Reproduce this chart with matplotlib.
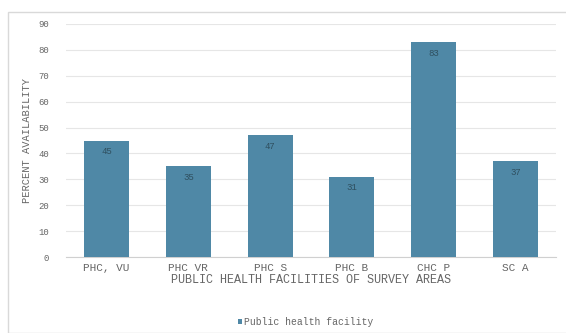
import matplotlib
matplotlib.use("Agg")
from matplotlib import pyplot as plt
from matplotlib.patches import Rectangle

# Data
facilities = ["PHC, VU", "PHC VR", "PHC S", "PHC B", "CHC P", "SC A"]
availability = [45, 35, 47, 31, 83, 37]
yticks = list(range(0, 91, 10))

bar_color = "#4f88a6"
text_color = "#666666"
font = "Liberation Mono"

fig = plt.figure(figsize=(5.66, 3.33), dpi=100)
fig.patch.set_facecolor("white")

# Light outer frame like the exported chart area
fig.patches.append(Rectangle((8 / 566, 0), 1, 1 - 12 / 333, transform=fig.transFigure,
                             fill=False, edgecolor="#d9d9d9", linewidth=1))

ax = fig.add_axes([0.116, 0.228, 0.867, 0.700])
x = range(len(facilities))
bars = ax.bar(x, availability, width=0.55, color=bar_color, zorder=3)

# Value labels inside the top of each bar
for b, v in zip(bars, availability):
    ax.text(b.get_x() + b.get_width() / 2, v - 2.5, str(v), ha="center", va="top",
            fontsize=6.5, color="#2f4f5f", family=font, zorder=4)

ax.set_xlim(-0.5, len(facilities) - 0.5)
ax.set_ylim(0, 90)
ax.set_yticks(yticks)
ax.set_yticklabels([str(t) for t in yticks], fontsize=6.5, color=text_color, family=font)
ax.set_xticks(list(x))
ax.set_xticklabels(facilities, fontsize=8, color=text_color, family=font)
ax.tick_params(axis="y", length=0, pad=12)
ax.tick_params(axis="x", length=0, pad=4)
ax.yaxis.grid(True, color="#e6e6e6", linewidth=0.8, zorder=0)

for side in ["top", "right", "left"]:
    ax.spines[side].set_visible(False)
ax.spines["bottom"].set_color("#d0d0d0")

ax.set_ylabel("PERCENT AVAILABILITY", fontsize=7.5, color=text_color, family=font)
ax.yaxis.set_label_coords(-0.068, 0.5)
ax.set_xlabel("PUBLIC HEALTH FACILITIES OF SURVEY AREAS", fontsize=8.5, color=text_color,
              family=font, labelpad=1)

leg = fig.legend([bars], ["Public health facility"], loc="center", bbox_to_anchor=(0.54, 0.033),
                 frameon=False, handlelength=0.5, handleheight=0.5, handletextpad=0.2,
                 prop={"family": font, "size": 7})
for t in leg.get_texts():
    t.set_color(text_color)

fig.savefig("out.png", dpi=100)
